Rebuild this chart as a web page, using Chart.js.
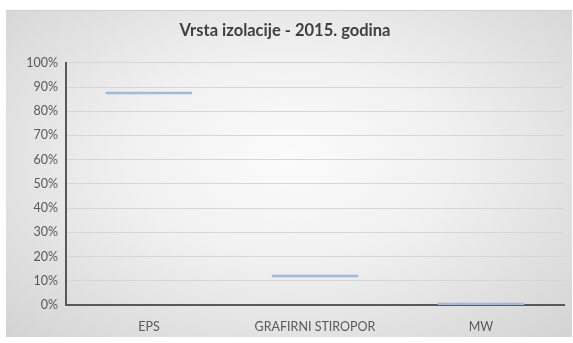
<!DOCTYPE html>
<html>
<head>
<meta charset="utf-8">
<script src="https://cdn.jsdelivr.net/npm/chart.js@4"></script>
<style>
  html, body { margin: 0; padding: 0; background: #fff; }
  #wrap {
    position: absolute; left: 6px; top: 10px; width: 566px; height: 326px;
    background: radial-gradient(ellipse at 50% 45%, #fbfbfb 0%, #f1f1f1 40%, #d3d3d3 100%);
    border-top: 1px solid #cfcfcf;
  }
</style>
</head>
<body>
<div id="wrap"><canvas id="chart" width="566" height="326"></canvas></div>
<script>
const categories = ["EPS", "GRAFIRNI STIROPOR", "MW"];
const shares = [87.5, 12, 0.4];   // postotak
const yTicks = [0, 10, 20, 30, 40, 50, 60, 70, 80, 90, 100];

// Excel-style markers: thin floating bars around each value
const markHalf = 0.5;
const floating = shares.map(v => [v - markHalf, v + markHalf]);

const ctx = document.getElementById("chart");
new Chart(ctx, {
    type: "bar",
    data: {
        labels: categories,
        datasets: [{
            data: floating,
            backgroundColor: "#a3b9d8",
            barPercentage: 0.52,
            categoryPercentage: 1,
        }],
    },
    options: {
        responsive: false,
        animation: false,
        layout: { padding: { left: 0, right: 8, top: 0, bottom: 0 } },
        scales: {
            x: {
                grid: { display: false },
                border: { color: "#595959", width: 2 },
                ticks: { color: "#595959", font: { family: "Lato", size: 12.5 }, padding: 6 },
                afterFit: (scale) => { scale.height = 32; },
            },
            y: {
                min: 0,
                max: 100,
                afterBuildTicks: (scale) => { scale.ticks = yTicks.map(v => ({ value: v })); },
                grid: { color: "#d6d6d6", drawTicks: false },
                border: { color: "#595959", width: 2 },
                ticks: {
                    color: "#595959",
                    font: { family: "Lato", size: 12.5 },
                    padding: 8,
                    callback: (v) => v + "%",
                },
                afterFit: (scale) => { scale.width = 60; },
            },
        },
        plugins: {
            legend: { display: false },
            tooltip: { enabled: false },
            title: {
                display: true,
                text: "Vrsta izolacije - 2015. godina",
                color: "#404040",
                font: { family: "Lato", size: 16.5, weight: "bold" },
                padding: { top: 10, bottom: 22 },
            },
        },
    },
});
</script>
</body>
</html>
